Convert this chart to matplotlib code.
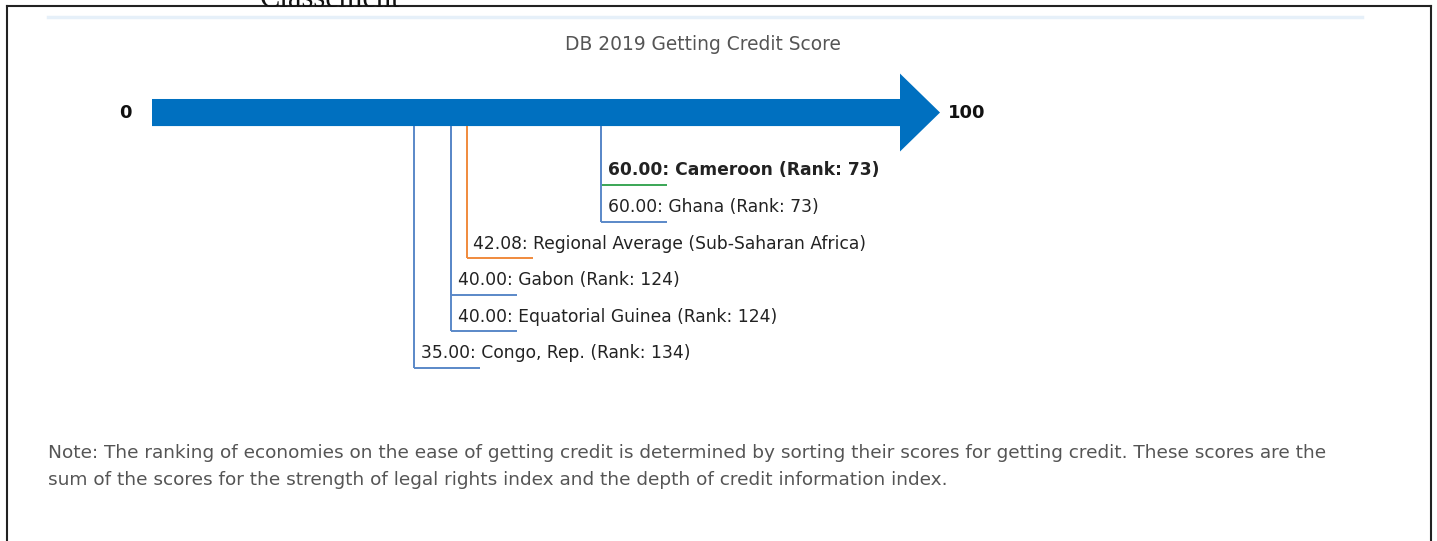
import matplotlib
matplotlib.use("Agg")
import matplotlib.pyplot as plt
from matplotlib.patches import FancyArrow
from matplotlib.lines import Line2D

plt.rcParams["font.family"] = ["DejaVu Sans"]

# scores shown on the 0-100 arrow, top row first
economies = ["Cameroon", "Ghana", "Regional Average (Sub-Saharan Africa)",
             "Gabon", "Equatorial Guinea", "Congo, Rep."]
scores = [60.00, 60.00, 42.08, 40.00, 40.00, 35.00]
ranks = [73, 73, None, 124, 124, 134]
highlight = "Cameroon"
regional = "Regional Average (Sub-Saharan Africa)"

title = "DB 2019 Getting Credit Score"
note = ("Note: The ranking of economies on the ease of getting credit is determined by sorting their scores for getting credit. These scores are the\n"
        "sum of the scores for the strength of legal rights index and the depth of credit information index.")

W, H = 1437, 541
BLUE_ARROW = "#0070c0"
BLUE = "#5a88c8"
ORANGE = "#f08a3c"
GREEN = "#3aa655"

fig = plt.figure(figsize=(W / 100, H / 100), dpi=100)
ax = fig.add_axes([0, 0, 1, 1])
# x: score units (0 at px 152, 100 at px 900); y: label rows (36.6 px apart)
px_per_unit = 7.48
row_px = 36.6
ax.set_xlim(-152 / px_per_unit, (W - 152) / px_per_unit)
ax.set_ylim((H - 185) / row_px, -185 / row_px)
ax.axis("off")

arrow_y = -1.98
arrow = FancyArrow(0, arrow_y, 105.35, 0, width=0.74, head_width=2.13,
                   head_length=5.35, length_includes_head=True,
                   color=BLUE_ARROW, lw=0)
ax.add_patch(arrow)
shaft_bottom = arrow_y + 0.37

ax.text(-3.5, arrow_y, "0", ha="center", va="center", fontsize=13,
        fontweight="bold", color="#111")
ax.text(106.4, arrow_y, "100", ha="left", va="center", fontsize=13,
        fontweight="bold", color="#111")

seg_len = 8.8
for row, (name, sc, rk) in enumerate(zip(economies, scores, ranks)):
    vcol = ORANGE if name == regional else BLUE
    hcol = GREEN if name == highlight else vcol
    ax.plot([sc, sc], [shaft_bottom, row], color=vcol, lw=1.4,
            solid_capstyle="butt", zorder=2)
    ax.plot([sc, sc + seg_len], [row, row], color=hcol, lw=1.4,
            solid_capstyle="butt", zorder=2)
    label = f"{sc:.2f}: {name}" + (f" (Rank: {rk})" if rk is not None else "")
    ax.text(sc + 0.9, row - 0.4, label, ha="left", va="center",
            fontsize=12.3, color="#222",
            fontweight="bold" if name == highlight else "normal")

fig.text(703 / W, 1 - 44 / H, title, ha="center", va="center",
         fontsize=13.4, color="#555")
fig.text(48 / W, 1 - 466.5 / H, note, ha="left", va="center", fontsize=13.3,
         color="#555", linespacing=1.6)

# page decoration: cut-off caption, frame, faint rule
fig.text(330 / W, 1 - 7 / H, "Classement", ha="center", va="baseline",
         fontsize=22, family="Liberation Serif", color="#111")
frame = dict(color="#222", lw=1.5, transform=fig.transFigure)
fig.add_artist(Line2D([7 / W, 1431 / W], [1 - 6 / H, 1 - 6 / H], **frame))
fig.add_artist(Line2D([7 / W, 7 / W], [0, 1 - 6 / H], **frame))
fig.add_artist(Line2D([1431 / W, 1431 / W], [0, 1 - 6 / H], **frame))
fig.add_artist(Line2D([48 / W, 1362 / W], [1 - 17 / H, 1 - 17 / H],
                      color="#e6f0f9", lw=2.5, transform=fig.transFigure))

fig.savefig("out.png", dpi=100)
